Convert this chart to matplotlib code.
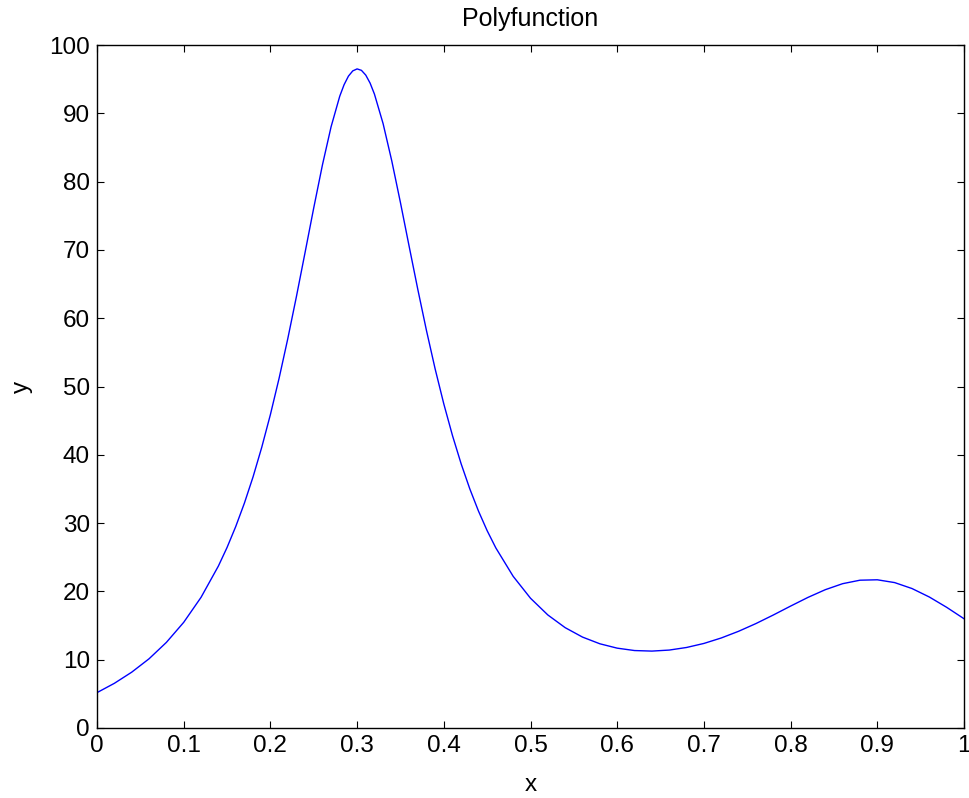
import matplotlib
matplotlib.use("Agg")
import matplotlib.pyplot as plt

x_vals = [0.00, 0.02, 0.04, 0.06, 0.08, 0.10, 0.12, 0.14, 0.15, 0.16, 0.17, 0.18, 0.19,
          0.20, 0.21, 0.22, 0.23, 0.24, 0.25, 0.26, 0.27, 0.28, 0.285, 0.29, 0.295,
          0.30, 0.305, 0.31, 0.315, 0.32, 0.33, 0.34, 0.35, 0.36, 0.37, 0.38, 0.39,
          0.40, 0.41, 0.42, 0.43, 0.44, 0.45, 0.46, 0.48, 0.50, 0.52, 0.54, 0.56, 0.58,
          0.60, 0.62, 0.64, 0.66, 0.68, 0.70, 0.72, 0.74, 0.76, 0.78,
          0.80, 0.82, 0.84, 0.86, 0.88, 0.90, 0.92, 0.94, 0.96, 0.98, 1.00]
y_vals = [5.18, 6.54, 8.17, 10.13, 12.53, 15.47, 19.13, 23.71, 26.43, 29.49, 32.92, 36.77, 41.09,
          45.89, 51.19, 56.97, 63.16, 69.63, 76.16, 82.43, 88.03, 92.51, 94.19, 95.44, 96.21,
          96.50, 96.29, 95.59, 94.42, 92.81, 88.48, 83.03, 76.92, 70.54, 64.23, 58.20, 52.58,
          47.45, 42.82, 38.68, 35.01, 31.76, 28.89, 26.37, 22.21, 19.00, 16.55, 14.69, 13.31, 12.33,
          11.69, 11.34, 11.26, 11.41, 11.79, 12.38, 13.18, 14.16, 15.29, 16.54,
          17.85, 19.12, 20.25, 21.13, 21.64, 21.70, 21.29, 20.42, 19.18, 17.67, 16.00]

x_ticks = [0, 0.1, 0.2, 0.3, 0.4, 0.5, 0.6, 0.7, 0.8, 0.9, 1]
x_tick_labels = ["0", "0.1", "0.2", "0.3", "0.4", "0.5", "0.6", "0.7", "0.8", "0.9", "1"]
y_ticks = [0, 10, 20, 30, 40, 50, 60, 70, 80, 90, 100]

plt.rcParams['font.family'] = ['Liberation Sans', 'DejaVu Sans']

fig = plt.figure(figsize=(9.7, 7.98), dpi=100)
ax = fig.add_axes([97/970, 1 - 728/798, (964 - 97)/970, (728 - 45)/798])
ax.plot(x_vals, y_vals, color='#0000ff', linewidth=1.0)
ax.set_xlim(0, 1)
ax.set_ylim(0, 100)
ax.set_xticks(x_ticks)
ax.set_xticklabels(x_tick_labels)
ax.set_yticks(y_ticks)
ax.tick_params(direction='in', length=5, width=0.8, labelsize=17.5, top=True, right=True,
               labeltop=False, labelright=False, pad=5)
for s in ax.spines.values():
    s.set_linewidth(1.0)
ax.set_title("Polyfunction", fontsize=18, pad=14)
ax.set_xlabel("x", fontsize=17.5, labelpad=12)
ax.set_ylabel("y", fontsize=17.5, labelpad=12)
fig.savefig("out.png", dpi=100)
